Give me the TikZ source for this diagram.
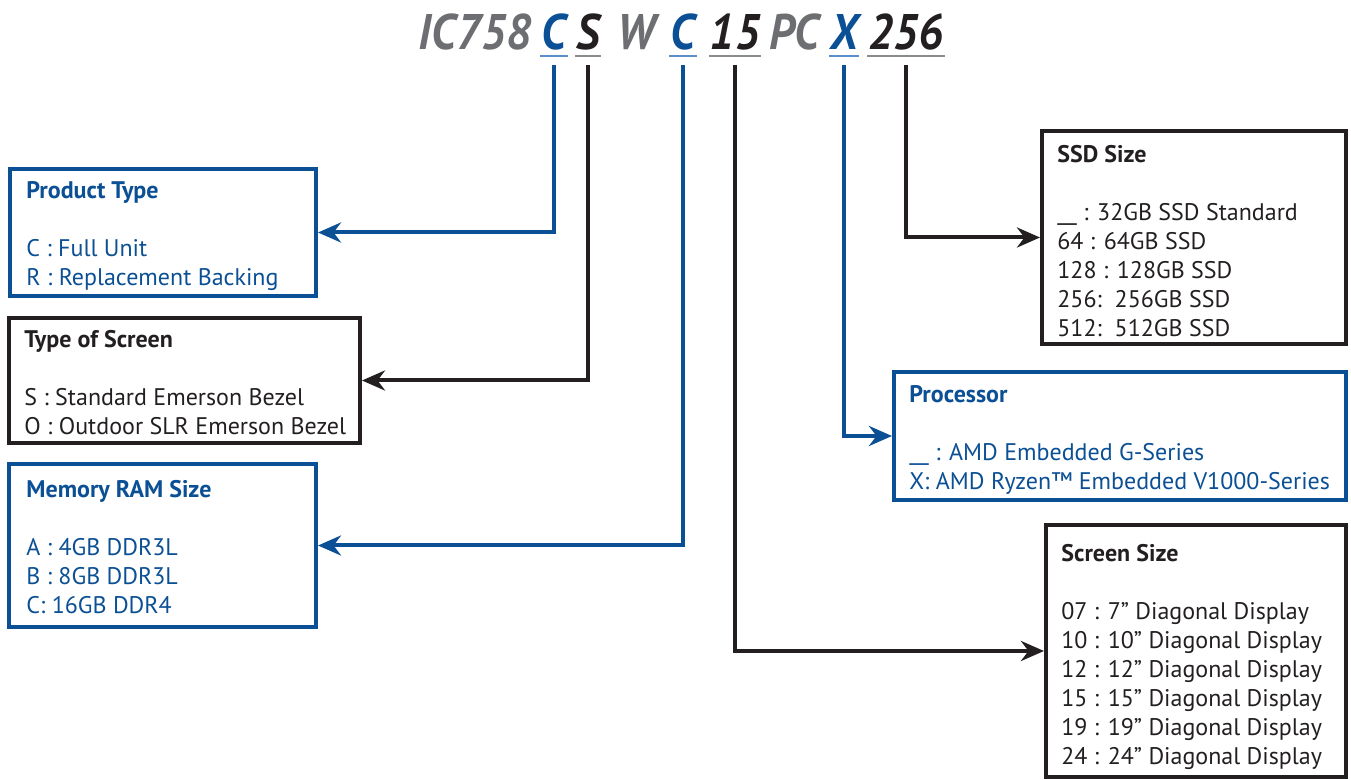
\documentclass[tikz,border=0pt]{standalone}
\usepackage{fontspec}
\setmainfont{PT Sans}
\newfontfamily\codefont[FakeStretch=0.92]{PT Sans Bold Italic}
\usepackage{tikz}
\usetikzlibrary{positioning,fit,calc,arrows.meta}

\definecolor{emblue}{HTML}{0B4F94}
\definecolor{emblack}{HTML}{231F20}
\definecolor{emgray}{HTML}{6D6E71}
\definecolor{emblueline}{HTML}{5B8FCB}
\definecolor{emgrayline}{HTML}{8A8B8E}

\tikzset{
  codepart/.style={anchor=base, inner sep=0pt, text=#1,
    font=\codefont\fontsize{25}{25}\selectfont},
  optbox/.style={draw=#1, line width=2pt, inner sep=0pt},
  opttext/.style={anchor=north west, inner sep=0pt, align=left, text=#1,
    font=\fontsize{12}{14.5}\selectfont},
  link/.style={draw=#1, line width=2pt,
    -{Stealth[length=11.5pt, width=10pt]}},
  underl/.style={draw=#1, line width=0.8pt}
}

\begin{document}
\begin{tikzpicture}[x=0.5pt, y=-0.5pt]
  \useasboundingbox (0,0) rectangle (1351,780);

  % Part number
  \node[codepart=emgray]  (pre)  at (475,50) {IC758};
  \node[codepart=emblue]  (prod) at (554,50) {C};
  \node[codepart=emblack] (scr)  at (588,50) {S};
  \node[codepart=emgray]  (wtr)  at (636,50) {W};
  \node[codepart=emblue]  (ram)  at (683,50) {C};
  \node[codepart=emblack] (size) at (735,50) {15};
  \node[codepart=emgray]  (pc)   at (794,50) {PC};
  \node[codepart=emblue]  (cpu)  at (844,50) {X};
  \node[codepart=emblack] (ssd)  at (906,50) {256};

  % Underlines
  \foreach \n/\c in {prod/emblueline, scr/emgrayline, ram/emblueline,
                     size/emgrayline, cpu/emblueline, ssd/emgrayline}
    \draw[underl=\c] ($(\n.base west)+(-1,6)$) -- ($(\n.base east)+(1,6)$);

  % Boxes
  \node[optbox=emblue,  fit={(10,169) (316,296)}]   (ptype)  {};
  \node[optbox=emblack, fit={(9,318) (360,443)}]    (stype)  {};
  \node[optbox=emblue,  fit={(9,464) (316,627)}]    (rsize)  {};
  \node[optbox=emblack, fit={(1042,131) (1346,344)}] (dsize) {};
  \node[optbox=emblue,  fit={(894,372) (1346,500)}] (proc)   {};
  \node[optbox=emblack, fit={(1046,525) (1346,777)}] (ssize) {};

  % Box texts
  \node[opttext=emblue] at (26,181) {\textbf{Product Type}\\ \\
    C : Full Unit\\ R : Replacement Backing};
  \node[opttext=emblack] at (24,330) {\textbf{Type of Screen}\\ \\
    S : Standard Emerson Bezel\\ O : Outdoor SLR Emerson Bezel};
  \node[opttext=emblue] at (26,480) {\textbf{Memory RAM Size}\\ \\
    A : 4GB DDR3L\\ B : 8GB DDR3L\\ C: 16GB DDR4};
  \node[opttext=emblack] at (1057,145) {\textbf{SSD Size}\\ \\
    \_\_ : 32GB SSD Standard\\ 64 : 64GB SSD\\ 128 : 128GB SSD\\
    256:~~256GB SSD\\ 512:~~512GB SSD};
  \node[opttext=emblue] at (909,385) {\textbf{Processor}\\ \\
    \_\_ : AMD Embedded G-Series\\ X: AMD Ryzen™ Embedded V1000-Series};
  \node[opttext=emblack] at (1061,544) {\textbf{Screen Size}\\ \\
    07 : 7” Diagonal Display\\ 10 : 10” Diagonal Display\\
    12 : 12” Diagonal Display\\ 15 : 15” Diagonal Display\\
    19 : 19” Diagonal Display\\ 24 : 24” Diagonal Display};

  % Connectors
  \draw[link=emblue]  ($(prod.base)+(0,15)$) |- (ptype.east);
  \draw[link=emblack] ($(scr.base)+(0,15)$)  |- (stype.east);
  \draw[link=emblue]  ($(ram.base)+(0,15)$)  |- (rsize.east);
  \draw[link=emblack] ($(size.base)+(0,15)$) |- (ssize.west);
  \draw[link=emblue]  ($(cpu.base)+(0,15)$)  |- (proc.west);
  \draw[link=emblack] ($(ssd.base)+(0,15)$)  |- (dsize.west);
\end{tikzpicture}
\end{document}
